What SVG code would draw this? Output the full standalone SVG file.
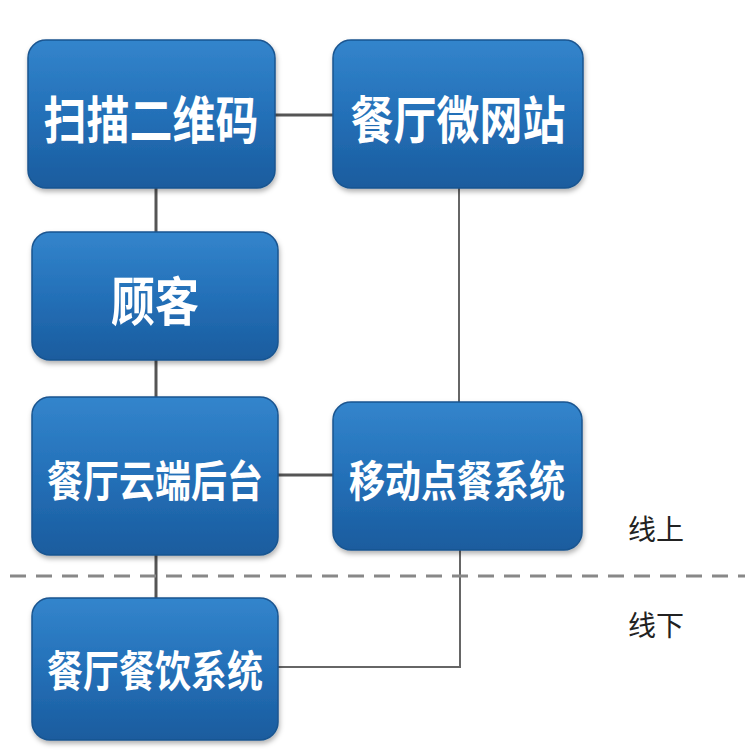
<svg xmlns="http://www.w3.org/2000/svg" width="750" height="750" viewBox="0 0 750 750">
<defs>
<linearGradient id="g" x1="0" y1="0" x2="0" y2="1">
<stop offset="0" stop-color="#3385cc"/>
<stop offset="0.5" stop-color="#2470b8"/>
<stop offset="1" stop-color="#1a5c9e"/>
</linearGradient>
<filter id="sh" x="-10%" y="-10%" width="120%" height="130%">
<feDropShadow dx="1" dy="3" stdDeviation="2.5" flood-color="#000" flood-opacity="0.3"/>
</filter>
</defs>
<style>
.box{fill:url(#g);stroke:#1a5590;stroke-width:1.5;filter:url(#sh)}
.t{fill:#fff;font-family:"Noto Sans CJK SC","Noto Sans",sans-serif;font-weight:bold;text-anchor:middle;dominant-baseline:central}
.c{stroke:#555;stroke-width:3;fill:none}
.c2{stroke:#666;stroke-width:2;fill:none}
.lbl{fill:#222;font-family:"Noto Sans CJK SC","Noto Sans",sans-serif;font-size:28px;dominant-baseline:central}
</style>
<rect width="750" height="750" fill="#fff"/>
<g id="connectors">
<line class="c" x1="275" y1="115" x2="333" y2="115"/>
<line class="c" x1="156" y1="188" x2="156" y2="232"/>
<line class="c" x1="156" y1="360" x2="156" y2="397"/>
<line class="c" x1="156" y1="555" x2="156" y2="598"/>
<line class="c2" x1="459" y1="188" x2="459" y2="402"/>
<line class="c" x1="278" y1="475" x2="333" y2="475"/>
<polyline class="c2" points="460,550 460,667 278,667"/>
<line x1="10" y1="576" x2="745" y2="576" stroke="#888" stroke-width="3" stroke-dasharray="16,10"/>
</g>
<g id="n1"><rect class="box" x="28" y="40" width="247" height="148" rx="18"/><text class="t" transform="translate(151,117) scale(1,1.2)" font-size="43">扫描二维码</text></g>
<g id="n2"><rect class="box" x="333" y="40" width="250" height="148" rx="18"/><text class="t" transform="translate(458,117) scale(1,1.2)" font-size="43">餐厅微网站</text></g>
<g id="n3"><rect class="box" x="32" y="232" width="246" height="128" rx="18"/><text class="t" transform="translate(155,298) scale(1,1.2)" font-size="44">顾客</text></g>
<g id="n4"><rect class="box" x="32" y="397" width="246" height="158" rx="18"/><text class="t" transform="translate(155,478) scale(1,1.2)" font-size="36">餐厅云端后台</text></g>
<g id="n5"><rect class="box" x="333" y="402" width="249" height="148" rx="18"/><text class="t" transform="translate(457,478) scale(1,1.2)" font-size="36">移动点餐系统</text></g>
<g id="n6"><rect class="box" x="32" y="598" width="246" height="142" rx="18"/><text class="t" transform="translate(155,668) scale(1,1.2)" font-size="36">餐厅餐饮系统</text></g>
<text class="lbl" x="628" y="528">线上</text>
<text class="lbl" x="628" y="624">线下</text>
</svg>
